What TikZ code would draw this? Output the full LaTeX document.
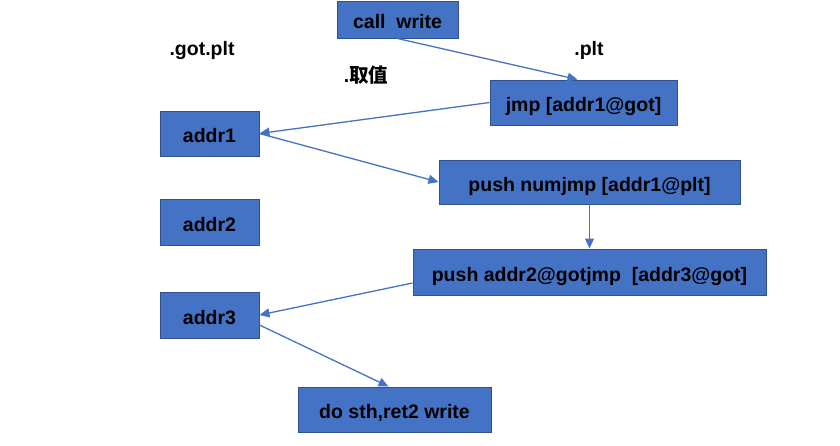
\documentclass[tikz,border=0pt]{standalone}
\usepackage{fontspec}
\setmainfont{Liberation Sans}
\newfontfamily\cjkfont{Noto Sans CJK SC}
\usetikzlibrary{arrows.meta}
\definecolor{boxfill}{HTML}{4472C4}
\definecolor{boxline}{HTML}{2F528F}
\definecolor{arrowc}{HTML}{4472C4}
\tikzset{
  blk/.style={rectangle, draw=boxline, fill=boxfill, line width=1pt, inner sep=0pt,
    text height=18pt, text depth=0pt,
    font=\fontsize{19.5}{22}\selectfont\bfseries, text=black},
  lbl/.style={inner sep=0pt, font=\fontsize{19.5}{22}\selectfont\bfseries, text=black},
  conn/.style={draw=arrowc, line width=1.3pt, -{Triangle[length=10pt,width=9pt]}}
}
\begin{document}
\begin{tikzpicture}[x=1pt,y=-1pt]
\useasboundingbox (0,0) rectangle (840,445);
\node[blk, minimum width=121pt, minimum height=37pt] (call) at (397.5,19.5) {call\ \ write};
\node[blk, minimum width=187pt, minimum height=45pt] (jmp) at (583.5,102.5) {jmp [addr1@got]};
\node[blk, minimum width=99pt, minimum height=45pt] (addr1) at (209.5,133.5) {addr1};
\node[blk, minimum width=99pt, minimum height=46pt] (addr2) at (209.5,222) {addr2};
\node[blk, minimum width=301pt, minimum height=44pt] (pnum) at (589.5,182) {push numjmp [addr1@plt]};
\node[blk, minimum width=353pt, minimum height=46pt] (paddr) at (589.5,272) {push addr2@gotjmp\ \ [addr3@got]};
\node[blk, minimum width=99pt, minimum height=46pt] (addr3) at (209.5,315) {addr3};
\node[blk, minimum width=193pt, minimum height=45pt] (doit) at (394.5,409.5) {do sth,ret2 write};
\node[lbl] (gotplt) at (202,50) {.got.plt};
\node[lbl] (plt) at (589,50) {.plt};
\node[lbl] (quzhi) at (366,75) {.{\cjkfont\bfseries 取值}};
\draw[conn] (call.south) -- ([xshift=-6pt]jmp.north);
\draw[conn] (jmp.west) -- (addr1.east);
\draw[conn] (addr1.east) -- (pnum.west);
\draw[conn] (pnum.south) -- (paddr.north);
\draw[conn] ([yshift=-11pt]paddr.west) -- (addr3.east);
\draw[conn] ([yshift=-10pt]addr3.east) -- ([xshift=-6pt]doit.north);
\end{tikzpicture}
\end{document}
